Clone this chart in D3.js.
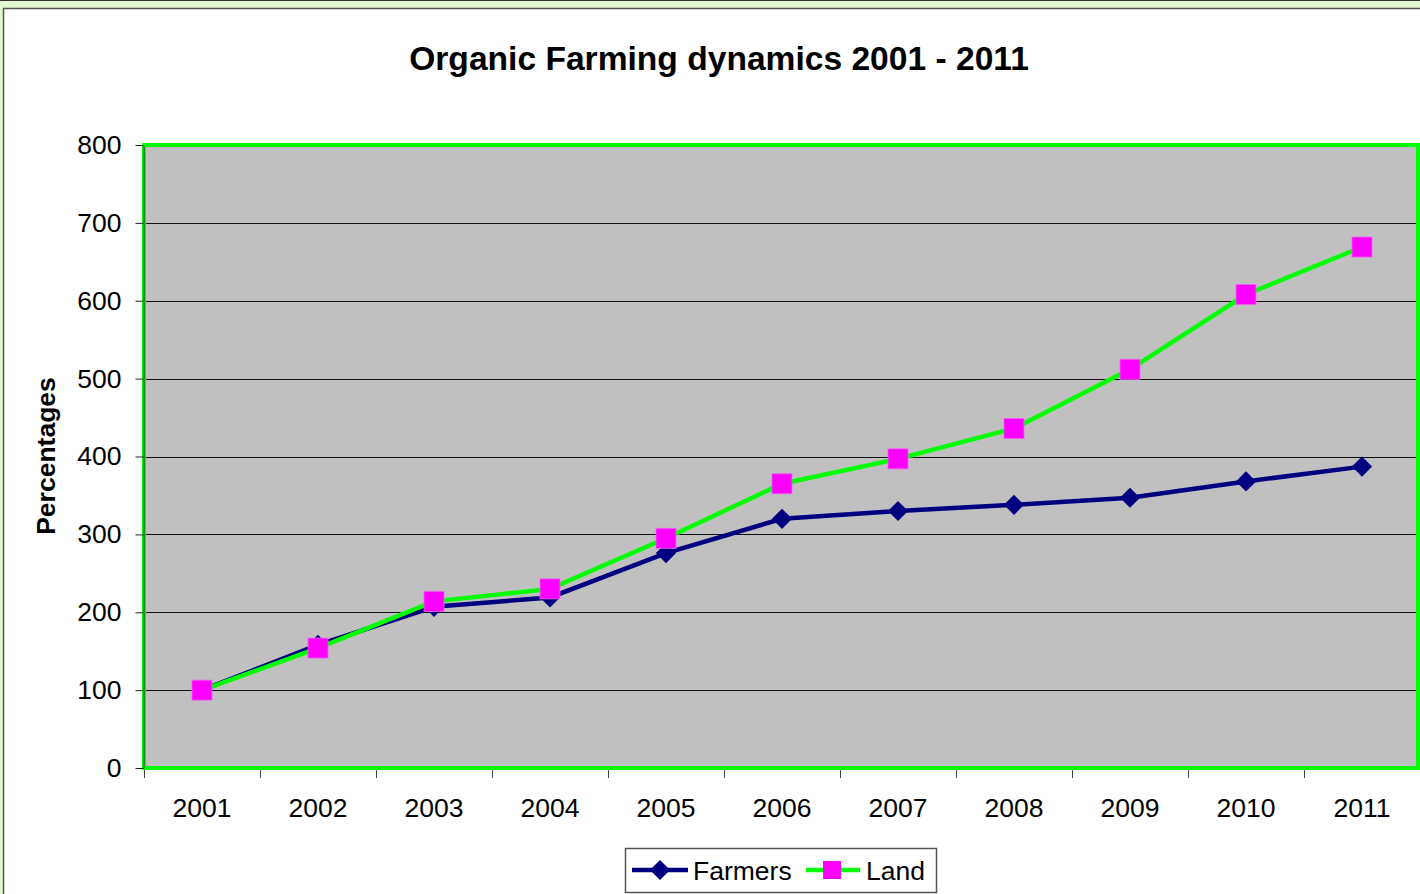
<!DOCTYPE html>
<html>
<head>
<meta charset="utf-8">
<script src="https://cdn.jsdelivr.net/npm/d3@7"></script>
<style>
  html, body { margin: 0; padding: 0; background: #e3f9d3; overflow: hidden; }
  svg { display: block; }
  text { font-family: "Liberation Sans", Arial, sans-serif; }
</style>
</head>
<body>
<div id="chart"></div>
<script>
// 数据
var years = ['2001', '2002', '2003', '2004', '2005', '2006', '2007', '2008', '2009', '2010', '2011'];
var farmers = [100, 158, 207, 219, 276, 320, 330, 338, 347, 368, 387];
var land = [100, 154, 214, 230, 295, 365, 397, 436, 512, 608, 669];
var yTicks = [0, 100, 200, 300, 400, 500, 600, 700, 800];

var W = 1420, H = 894;
var plot = { left: 144, top: 145, right: 1420, bottom: 768 };

var svg = d3.select('#chart').append('svg')
	.attr('width', W)
	.attr('height', H);

// 外框
svg.append('rect').attr('x', 0).attr('y', 0).attr('width', W).attr('height', H).attr('fill', '#e3f9d3');
svg.append('line').attr('x1', 0).attr('x2', W).attr('y1', 0.5).attr('y2', 0.5).attr('stroke', '#333');
svg.append('rect').attr('x', 3.5).attr('y', 8.5).attr('width', W + 10).attr('height', H + 10)
	.attr('fill', '#fff').attr('stroke', '#555').attr('stroke-width', 1.5);

var x = d3.scaleBand().domain(years).range([plot.left, plot.right]);
var y = d3.scaleLinear().domain([0, 800]).range([plot.bottom, plot.top]);

// 绘图区
svg.append('rect')
	.attr('x', plot.left).attr('y', plot.top)
	.attr('width', plot.right - plot.left).attr('height', plot.bottom - plot.top)
	.attr('fill', '#c0c0c0');

// 网格线
svg.append('g').selectAll('line').data(yTicks.slice(1, -1)).enter().append('line')
	.attr('x1', plot.left).attr('x2', plot.right)
	.attr('y1', d => Math.round(y(d)) + 0.5).attr('y2', d => Math.round(y(d)) + 0.5)
	.attr('stroke', '#111').attr('stroke-width', 1);

// 绿色边框
svg.append('rect')
	.attr('x', plot.left).attr('y', plot.top)
	.attr('width', plot.right - plot.left - 2).attr('height', plot.bottom - plot.top)
	.attr('fill', 'none').attr('stroke', '#00ff00').attr('stroke-width', 4);

// y轴
var yAxis = svg.append('g')
	.attr('transform', 'translate(' + (plot.left - 0.5) + ',0)')
	.call(d3.axisLeft(y).tickValues(yTicks).tickSize(8).tickPadding(14).tickSizeOuter(0));
yAxis.select('.domain').attr('stroke', '#222');
yAxis.selectAll('.tick line').attr('stroke', '#222');
yAxis.selectAll('text').attr('font-size', 26.5).attr('fill', '#000')
	.attr('font-family', '"Liberation Sans", Arial, sans-serif');

// x轴
var xTickPos = d3.range(years.length + 1).map(i => plot.left + i * x.step());
svg.append('g').selectAll('line').data(xTickPos).enter().append('line')
	.attr('x1', d => Math.round(d) + 0.5).attr('x2', d => Math.round(d) + 0.5)
	.attr('y1', plot.bottom + 2).attr('y2', plot.bottom + 10)
	.attr('stroke', '#444');
svg.append('g').selectAll('text').data(years).enter().append('text')
	.attr('x', d => x(d) + x.bandwidth() / 2)
	.attr('y', 817)
	.attr('text-anchor', 'middle')
	.attr('font-size', 26.5)
	.text(d => d);

// 标题
svg.append('text')
	.attr('x', 719).attr('y', 70)
	.attr('text-anchor', 'middle')
	.attr('font-size', 33.6).attr('font-weight', 'bold')
	.text('Organic Farming dynamics 2001 - 2011');

svg.append('text')
	.attr('transform', 'translate(55,' + 456 + ')rotate(-90)')
	.attr('text-anchor', 'middle')
	.attr('font-size', 26.5).attr('font-weight', 'bold')
	.text('Percentages');

// 折线
var cx = d => x(d) + x.bandwidth() / 2;
var line = d3.line().x(d => cx(d.year)).y(d => y(d.v));

var farmerData = years.map((yr, i) => ({ year: yr, v: farmers[i] }));
var landData = years.map((yr, i) => ({ year: yr, v: land[i] }));

svg.append('path').datum(farmerData).attr('d', line)
	.attr('fill', 'none').attr('stroke', '#000080').attr('stroke-width', 4.5);
svg.append('g').selectAll('path').data(farmerData).enter().append('path')
	.attr('d', d3.symbol().type(d3.symbolDiamond2).size(260))
	.attr('transform', d => 'translate(' + cx(d.year) + ',' + y(d.v) + ')')
	.attr('fill', '#000080');

svg.append('path').datum(landData).attr('d', line)
	.attr('fill', 'none').attr('stroke', '#00ff00').attr('stroke-width', 4.5);
svg.append('g').selectAll('rect').data(landData).enter().append('rect')
	.attr('x', d => cx(d.year) - 10).attr('y', d => y(d.v) - 10)
	.attr('width', 20).attr('height', 20)
	.attr('fill', '#ff00ff').attr('stroke', '#f060f0').attr('stroke-width', 0.8);

// 图例
var lg = svg.append('g');
lg.append('rect').attr('x', 625.5).attr('y', 848.5).attr('width', 311).attr('height', 44)
	.attr('fill', '#fff').attr('stroke', '#555').attr('stroke-width', 1.5);
lg.append('line').attr('x1', 632).attr('x2', 688).attr('y1', 870).attr('y2', 870)
	.attr('stroke', '#000080').attr('stroke-width', 4.5);
lg.append('path').attr('d', d3.symbol().type(d3.symbolDiamond2).size(260))
	.attr('transform', 'translate(660,870)').attr('fill', '#000080');
lg.append('text').attr('x', 693).attr('y', 880).attr('font-size', 26.5).text('Farmers');
lg.append('line').attr('x1', 806).attr('x2', 860).attr('y1', 870).attr('y2', 870)
	.attr('stroke', '#00ff00').attr('stroke-width', 4.5);
lg.append('rect').attr('x', 823).attr('y', 861).attr('width', 18).attr('height', 18)
	.attr('fill', '#ff00ff');
lg.append('text').attr('x', 866).attr('y', 880).attr('font-size', 26.5).text('Land');
</script>
</body>
</html>
